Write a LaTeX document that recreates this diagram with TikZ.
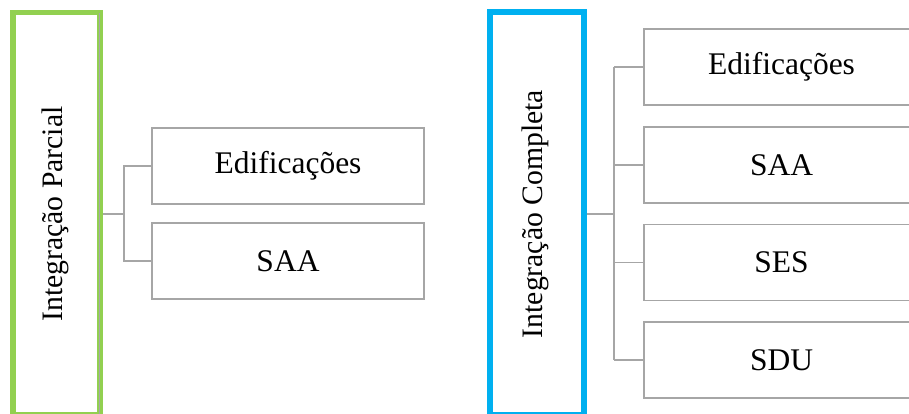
\documentclass[tikz,border=0pt]{standalone}
\usepackage{fontspec}
\setmainfont{Liberation Serif}
\usetikzlibrary{calc}
\definecolor{grpart}{RGB}{146,208,80}
\definecolor{blcomp}{RGB}{0,176,240}
\definecolor{boxgray}{RGB}{166,166,166}

\begin{document}
\begin{tikzpicture}[x=1pt, y=-1pt, line width=1.5pt,
    item box/.style={draw=boxgray, inner sep=0pt, minimum width=272pt, minimum height=76pt,
      font=\fontsize{31.5}{36}\selectfont},
    wide box/.style={item box, minimum width=300pt},
    frame box/.style={inner sep=0pt, minimum width=#1, minimum height=402pt},
    frame label/.style={rotate=90, font=\fontsize{29.7}{34}\selectfont},
    link/.style={draw=boxgray, line width=1.5pt}
  ]
  \useasboundingbox (0,0) rectangle (909,414);
  \clip (0,0) rectangle (909,414);

  % left group
  \node [frame box=87pt, draw=grpart, line width=5.5pt] (parcial) at (56.5,213.75) {};
  \draw [boxgray, line width=1pt] ($(parcial.north east)+(-3.3,2.75)$) -- ($(parcial.south east)+(-3.3,-2.75)$);
  \node [frame label] (parcialtxt) at (55,214) {Integração Parcial};
  \node [item box] (edifP) at (288,166) {Edificações};
  \node [item box] (saaP) at (288,261) {SAA};
  \coordinate (pj) at (124,214);
  \draw [link] (pj -| parcial.east) -- (pj);
  \draw [link] (edifP.west) -- (edifP.west -| pj) -- (saaP.west -| pj) -- (saaP.west);

  % right group (boxes run past the right edge)
  \node [frame box=94pt, draw=blcomp, line width=6pt] (completa) at (537,213.5) {};
  \node [frame label] (completatxt) at (535,214) {Integração Completa};
  \node [wide box] (edifC) at (794,67) {Edificações\hspace*{25pt}};
  \node [wide box] (saaC) at (794,165) {SAA\hspace*{25pt}};
  \node [wide box] (sesC) at (794,262.5) {SES\hspace*{25pt}};
  \node [wide box] (sduC) at (794,360) {SDU\hspace*{25pt}};
  \coordinate (cj) at (614,214);
  \draw [link] (cj -| completa.east) -- (cj);
  \draw [link] (edifC.west -| cj) -- (sduC.west -| cj);
  \foreach \b in {edifC,saaC,sesC,sduC}
    \draw [link] (\b.west -| cj) -- (\b.west);
\end{tikzpicture}
\end{document}
